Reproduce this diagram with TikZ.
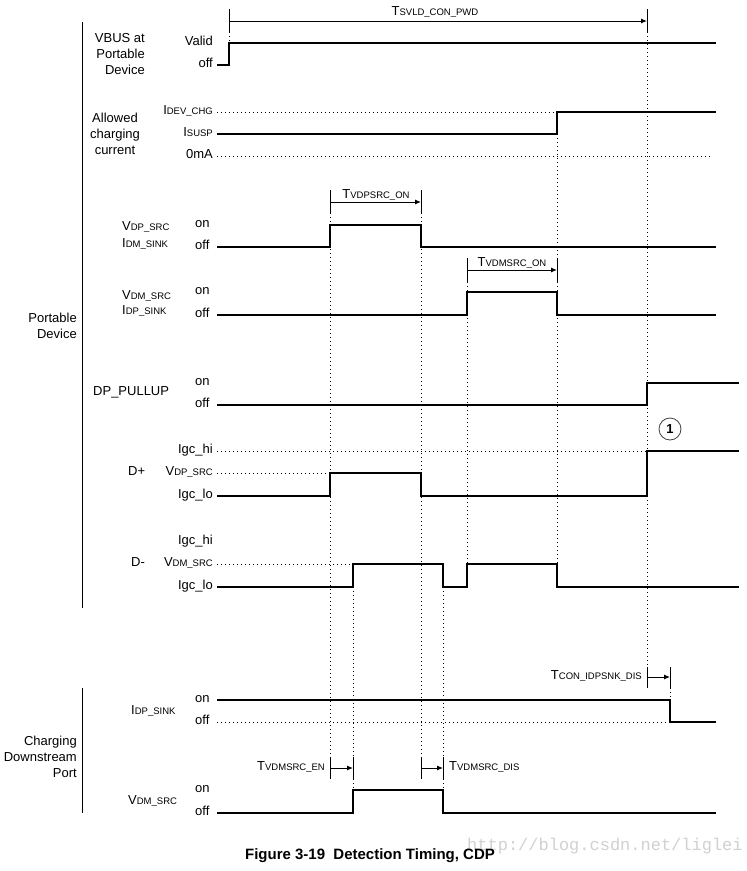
\documentclass[tikz,border=0pt]{standalone}
\usepackage{fontspec}
\setmainfont{Liberation Sans}
\newfontfamily\wmfont{Liberation Mono}
\usetikzlibrary{arrows.meta}
\newcommand{\smtxt}[1]{{\fontsize{9.5}{10}\selectfont #1}}
\tikzset{
 sig/.style={line width=1.1pt, line join=miter},
 dotl/.style={line width=1pt, dash pattern=on 1pt off 3pt},
 tick/.style={line width=1pt},
 tarrow/.style={line width=1pt, -{Latex[length=6pt,width=5pt]}},
 lbl/.style={inner sep=0pt, font=\fontsize{13}{16}\selectfont},
 lr/.style={lbl, anchor=mid east},
 ll/.style={lbl, anchor=mid west},
}
\begin{document}
\begin{tikzpicture}[x=1pt,y=-1pt]
\fill[white] (0,0) rectangle (747,871);
\useasboundingbox (0,0) rectangle (747,871);

% watermark (underneath)
\node[font=\wmfont\fontsize{17}{19}\selectfont, text=black!18, anchor=mid west, inner sep=0pt] (wm) at (467,848) {http://blog.csdn.net/liglei};

% frame lines
\draw[tick] (82,22) -- (82,608);
\draw[tick] (82,688) -- (82,813);

% group labels
\node[lbl, align=right, anchor=east] (vbus) at (145,54) {VBUS at\\Portable\\Device};
\node[lbl, align=center] (allow) at (115,134) {Allowed\\charging\\current};
\node[lbl, align=right, anchor=east] (pd) at (77,326) {Portable\\Device};
\node[lbl, align=right, anchor=east] (cdp) at (77,757) {Charging\\Downstream\\Port};

% dotted verticals
\draw[dotl] (229,32) -- (229,43);
\draw[dotl] (330,213) -- (330,757);
\draw[dotl] (421,213) -- (421,757);
\draw[dotl] (353,587) -- (353,790);
\draw[dotl] (443,587) -- (443,790);
\draw[dotl] (467,282) -- (467,564);
\draw[dotl] (557,134) -- (557,564);
\draw[dotl] (647,32) -- (647,667);
\draw[dotl] (670,688) -- (670,700);

% VBUS
\node[lr] (valid) at (213,43) {Valid};
\node[lr] (voff) at (213,65) {off};
\draw[sig] (217,65) -- (229,65) -- (229,43) -- (716,43);
\draw[tick] (229,9) -- (229,32);
\draw[tick] (647,9) -- (647,32);
\draw[tarrow] (229,21) -- (647,21);
\node[lbl] (tsvld) at (435,12) {T\smtxt{SVLD\_CON\_PWD}};

% Allowed charging current
\node[lr] (idev) at (213,112) {I\smtxt{DEV\_CHG}};
\node[lr] (isusp) at (213,134) {I\smtxt{SUSP}};
\node[lr] (zma) at (213,156) {0mA};
\draw[dotl] (217,112) -- (557,112);
\draw[sig] (217,134) -- (557,134) -- (557,112) -- (716,112);
\draw[dotl] (217,156) -- (712,156);

% VDP_SRC / IDM_SINK
\node[ll] (vdpsrc) at (122,228) {V\smtxt{DP\_SRC}};
\node[ll] (idmsink) at (122,245) {I\smtxt{DM\_SINK}};
\node[ll] (on1) at (195,225) {on};
\node[ll] (off1) at (195,247) {off};
\draw[sig] (217,247) -- (330,247) -- (330,225) -- (421,225) -- (421,247) -- (716,247);
\draw[tick] (330,190) -- (330,213);
\draw[tick] (421,190) -- (421,213);
\draw[tarrow] (330,202) -- (421,202);
\node[lbl] (tvdpon) at (376,194.5) {T\smtxt{VDPSRC\_ON}};

% VDM_SRC / IDP_SINK
\node[ll] (vdmsrc) at (122,297) {V\smtxt{DM\_SRC}};
\node[ll] (idpsink) at (122,312) {I\smtxt{DP\_SINK}};
\node[ll] (on2) at (195,292) {on};
\node[ll] (off2) at (195,315) {off};
\draw[sig] (217,315) -- (467,315) -- (467,292) -- (557,292) -- (557,315) -- (716,315);
\draw[tick] (467,258) -- (467,282);
\draw[tick] (557,258) -- (557,282);
\draw[tarrow] (467,270) -- (557,270);
\node[lbl] (tvdmon) at (512,262.5) {T\smtxt{VDMSRC\_ON}};

% DP_PULLUP
\node[ll] (dppull) at (93,393) {DP\_PULLUP};
\node[ll] (on3) at (195,383) {on};
\node[ll] (off3) at (195,405) {off};
\draw[sig] (217,405) -- (647,405) -- (647,383) -- (739,383);
\node[circle, draw=black!75, line width=0.8pt, minimum size=22pt, inner sep=0pt,
      font=\fontsize{13}{15}\selectfont\bfseries] (c1) at (670,429) {1};

% D+
\node[ll] (dplus) at (128,473) {D+};
\node[lr] (gchi1) at (213,451) {Igc\_hi};
\node[lr] (vdps2) at (213,473) {V\smtxt{DP\_SRC}};
\node[lr] (gclo1) at (213,496) {Igc\_lo};
\draw[dotl] (217,451) -- (647,451);
\draw[dotl] (217,473) -- (330,473);
\draw[sig] (217,496) -- (330,496) -- (330,473) -- (421,473) -- (421,496) -- (647,496) -- (647,451) -- (739,451);

% D-
\node[ll] (dminus) at (131,564) {D-};
\node[lr] (gchi2) at (213,542) {Igc\_hi};
\node[lr] (vdms2) at (213,564) {V\smtxt{DM\_SRC}};
\node[lr] (gclo2) at (213,587) {Igc\_lo};
\draw[dotl] (217,564) -- (353,564);
\draw[sig] (217,587) -- (353,587) -- (353,564) -- (443,564) -- (443,587) -- (467,587) -- (467,564) -- (557,564) -- (557,587) -- (739,587);

% IDP_SINK (CDP)
\node[ll] (idps3) at (131,712) {I\smtxt{DP\_SINK}};
\node[ll] (on4) at (195,700) {on};
\node[ll] (off4) at (195,722) {off};
\draw[dotl] (217,722) -- (670,722);
\draw[sig] (217,700) -- (670,700) -- (670,722) -- (716,722);
\draw[tick] (647,667) -- (647,688);
\draw[tick] (670,667) -- (670,688);
\draw[tarrow] (647,677) -- (670,677);
\node[lr] (tcon) at (642,677) {T\smtxt{CON\_IDPSNK\_DIS}};

% VDM_SRC (CDP)
\node[ll] (vdms3) at (128,802) {V\smtxt{DM\_SRC}};
\node[ll] (on5) at (195,790) {on};
\node[ll] (off5) at (195,813) {off};
\draw[sig] (217,813) -- (353,813) -- (353,790) -- (443,790) -- (443,813) -- (716,813);
\draw[tick] (330,757) -- (330,779);
\draw[tick] (353,757) -- (353,779);
\draw[tarrow] (330,768) -- (353,768);
\node[lr] (tvdmen) at (325,768) {T\smtxt{VDMSRC\_EN}};
\draw[tick] (421,757) -- (421,779);
\draw[tick] (443,757) -- (443,779);
\draw[tarrow] (421,768) -- (443,768);
\node[ll] (tvdmdis) at (449,768) {T\smtxt{VDMSRC\_DIS}};

% caption
\node[font=\fontsize{15}{17}\selectfont\bfseries] (cap) at (370,856) {Figure 3-19\ \ Detection Timing, CDP};
\end{tikzpicture}
\end{document}
